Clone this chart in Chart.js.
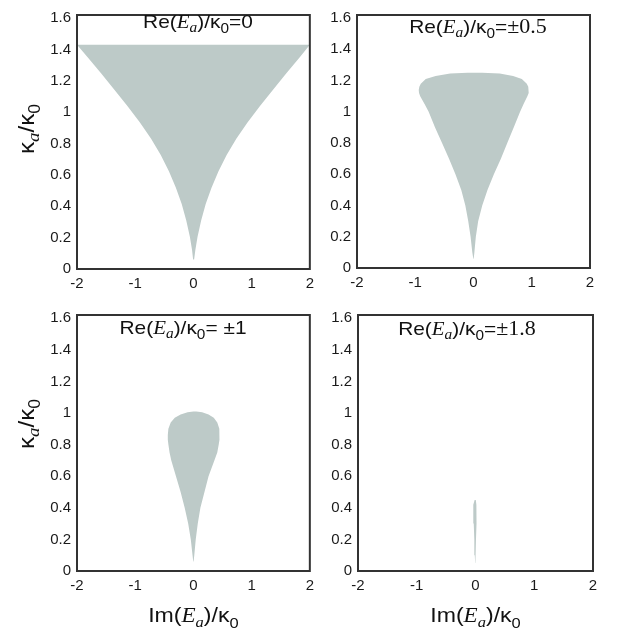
<!DOCTYPE html>
<html><head><meta charset="utf-8">
<script src="https://cdn.jsdelivr.net/npm/chart.js@4.4.1/dist/chart.umd.min.js"></script>
<style>
body{margin:0;background:#fff;width:623px;height:635px;position:relative;overflow:hidden}
canvas{position:absolute}
</style>
</head><body>
<canvas id="c1" style="left:0px;top:0px;width:320px;height:300px" width="320" height="300"></canvas>
<canvas id="c2" style="left:320px;top:0px;width:303px;height:300px" width="303" height="300"></canvas>
<canvas id="c3" style="left:0px;top:300px;width:320px;height:335px" width="320" height="335"></canvas>
<canvas id="c4" style="left:320px;top:300px;width:303px;height:335px" width="303" height="335"></canvas>
<script>
// ---- data: for each kappa_a/kappa0 level, left and right edge of the region in Im(E_a)/kappa0 ----
const xTicks = [-2, -1, 0, 1, 2];
const yTicks = [0, 0.2, 0.4, 0.6, 0.8, 1, 1.2, 1.4, 1.6];

// Panel 1: Re(E_a)/k0 = 0
const kappa1 = [0.06, 0.123, 0.206, 0.31, 0.414, 0.519, 0.623, 0.727, 0.831, 0.935, 1.04, 1.144, 1.248, 1.352, 1.43];
const left1  = [-0.005, -0.024, -0.061, -0.123, -0.201, -0.301, -0.421, -0.561, -0.727, -0.919, -1.134, -1.358, -1.587, -1.821, -2];
const right1 = [0.012, 0.034, 0.071, 0.133, 0.211, 0.311, 0.431, 0.571, 0.737, 0.929, 1.144, 1.368, 1.597, 1.831, 2];

// Panel 2: Re(E_a)/k0 = ±0.5
const kappa2 = [0.06, 0.1, 0.2, 0.3, 0.4, 0.5, 0.6, 0.7, 0.8, 0.9, 1.0, 1.05, 1.1, 1.12, 1.14, 1.16, 1.18, 1.21, 1.23, 1.245, 1.25];
const left2  = [-0.003, -0.02, -0.05, -0.09, -0.14, -0.21, -0.31, -0.42, -0.54, -0.66, -0.77, -0.84, -0.915, -0.935, -0.94, -0.93, -0.905, -0.82, -0.65, -0.4, -0.1];
const right2 = [0.003, 0.015, 0.04, 0.08, 0.15, 0.24, 0.35, 0.47, 0.58, 0.69, 0.8, 0.86, 0.925, 0.945, 0.95, 0.94, 0.915, 0.83, 0.68, 0.45, 0.15];

// Panel 3: Re(E_a)/k0 = ±1
const kappa3 = [0.06, 0.1, 0.2, 0.3, 0.4, 0.5, 0.6, 0.7, 0.75, 0.8, 0.83, 0.86, 0.9, 0.94, 0.97, 0.99, 1.005, 1.01];
const left3  = [-0.003, -0.015, -0.045, -0.09, -0.15, -0.22, -0.3, -0.38, -0.41, -0.43, -0.44, -0.44, -0.43, -0.39, -0.32, -0.22, -0.1, 0.0];
const right3 = [0.003, 0.015, 0.04, 0.075, 0.12, 0.19, 0.26, 0.36, 0.41, 0.435, 0.445, 0.45, 0.445, 0.41, 0.35, 0.26, 0.15, 0.05];

// Panel 4: Re(E_a)/k0 = ±1.8
const kappa4 = [0.05, 0.1, 0.2, 0.3, 0.36, 0.42, 0.45];
const left4  = [-0.006, -0.012, -0.02, -0.03, -0.04, -0.035, -0.015];
const right4 = [-0.004, 0.0, 0.008, 0.015, 0.02, 0.015, 0.005];

// ---- styling ----
const FILL = '#bdcac8';
const SANS = '"Liberation Sans", Arial, sans-serif';
const SERIF = '"Liberation Serif", "Times New Roman", serif';
const HSCALE = 1.1;
Chart.defaults.font.family = SANS;
Chart.defaults.color = '#1a1a1a';

function rich(ctx, parts, x, y, rotate) {
  ctx.save();
  ctx.translate(x, y);
  if (rotate) ctx.rotate(-Math.PI / 2);
  ctx.scale(HSCALE, 1);
  let w = 0;
  parts.forEach(p => { ctx.font = p.f; p.w = ctx.measureText(p.t).width; w += p.w; });
  let cx = -w / 2;
  ctx.fillStyle = '#111';
  ctx.textAlign = 'left';
  ctx.textBaseline = 'alphabetic';
  parts.forEach(p => { ctx.font = p.f; ctx.fillText(p.t, cx, p.dy || 0); cx += p.w; });
  ctx.restore();
}

function reParts(tail) {
  return [
    {t: 'Re(', f: '19px ' + SANS},
    {t: 'E', f: 'italic 19px ' + SERIF},
    {t: 'a', f: 'italic 14px ' + SERIF, dy: 4},
    {t: ')/κ', f: '19px ' + SANS},
    {t: '0', f: '14px ' + SANS, dy: 5}
  ].concat(tail);
}
const yTitle = [
  {t: 'κ', f: '22px ' + SANS},
  {t: 'a', f: 'italic 17px ' + SERIF, dy: 5},
  {t: '/κ', f: '22px ' + SANS},
  {t: '0', f: '16px ' + SANS, dy: 6}
];
const xTitle = [
  {t: 'Im(', f: '21px ' + SANS},
  {t: 'E', f: 'italic 21px ' + SERIF},
  {t: 'a', f: 'italic 15px ' + SERIF, dy: 5},
  {t: ')/κ', f: '21px ' + SANS},
  {t: '0', f: '15px ' + SANS, dy: 6}
];

function outline(kappa, left, right) {
  const pts = [];
  for (let i = 0; i < kappa.length; i++) pts.push({x: left[i], y: kappa[i]});
  for (let i = kappa.length - 1; i >= 0; i--) pts.push({x: right[i], y: kappa[i]});
  return pts;
}

function makePanel(id, kappa, left, right, cfg) {
  new Chart(document.getElementById(id), {
    type: 'line',
    data: {
      datasets: [{
        data: outline(kappa, left, right),
        fill: 'shape', tension: 0, borderWidth: 0, pointRadius: 0,
        backgroundColor: FILL, borderColor: FILL
      }]
    },
    options: {
      responsive: false,
      animation: false,
      events: [],
      layout: {padding: {left: 0, top: cfg.top, right: cfg.right, bottom: 0}},
      plugins: {legend: {display: false}, tooltip: {enabled: false}},
      scales: {
        x: {
          type: 'linear', min: -2, max: 2,
          grid: {display: false, drawTicks: false},
          border: {display: false},
          afterBuildTicks: s => { s.ticks = xTicks.map(v => ({value: v})); },
          afterFit: s => { s.height = cfg.xh; },
          ticks: {padding: 6, maxRotation: 0, autoSkip: false, font: {size: 15}, color: '#1a1a1a',
                  callback: v => String(v)}
        },
        y: {
          type: 'linear', min: 0, max: 1.62,
          grid: {display: false, drawTicks: false},
          border: {display: false},
          afterBuildTicks: s => { s.ticks = yTicks.map(v => ({value: v})); },
          afterFit: s => { s.width = cfg.yw; },
          ticks: {padding: 6, autoSkip: false, font: {size: 15}, color: '#1a1a1a',
                  callback: v => String(+(+v).toFixed(1))}
        }
      }
    },
    plugins: [{
      id: 'frame',
      afterDraw(chart) {
        const ctx = chart.ctx, a = chart.chartArea;
        ctx.save();
        ctx.strokeStyle = '#333';
        ctx.lineWidth = 2;
        ctx.strokeRect(a.left, a.top, a.right - a.left, a.bottom - a.top);
        ctx.restore();
        rich(ctx, reParts(cfg.tail), cfg.labX, cfg.labY);
        if (cfg.yTitle) rich(ctx, yTitle, 34, cfg.yTitleY, true);
        if (cfg.xTitle) rich(ctx, xTitle, (a.left + a.right) / 2, cfg.xTitleY);
      }
    }]
  });
}

makePanel('c1', kappa1, left1, right1, {top: 8, right: 7, yw: 77, xh: 31,
  tail: [{t: '=0', f: '19px ' + SANS}], labX: 198, labY: 28, yTitle: true, yTitleY: 129});
makePanel('c2', kappa2, left2, right2, {top: 8, right: 33, yw: 37, xh: 32,
  tail: [{t: '=', f: '19px ' + SANS}, {t: '±0.5', f: '20px ' + SERIF}], labX: 158, labY: 33});
makePanel('c3', kappa3, left3, right3, {top: 8, right: 7, yw: 77, xh: 64,
  tail: [{t: '= ±1', f: '19px ' + SANS}], labX: 183, labY: 34, yTitle: true, yTitleY: 124, xTitle: true, xTitleY: 322});
makePanel('c4', kappa4, left4, right4, {top: 8, right: 30, yw: 38, xh: 64,
  tail: [{t: '=', f: '19px ' + SANS}, {t: '±1.8', f: '20px ' + SERIF}], labX: 147, labY: 35, xTitle: true, xTitleY: 322});
</script>
</body></html>
